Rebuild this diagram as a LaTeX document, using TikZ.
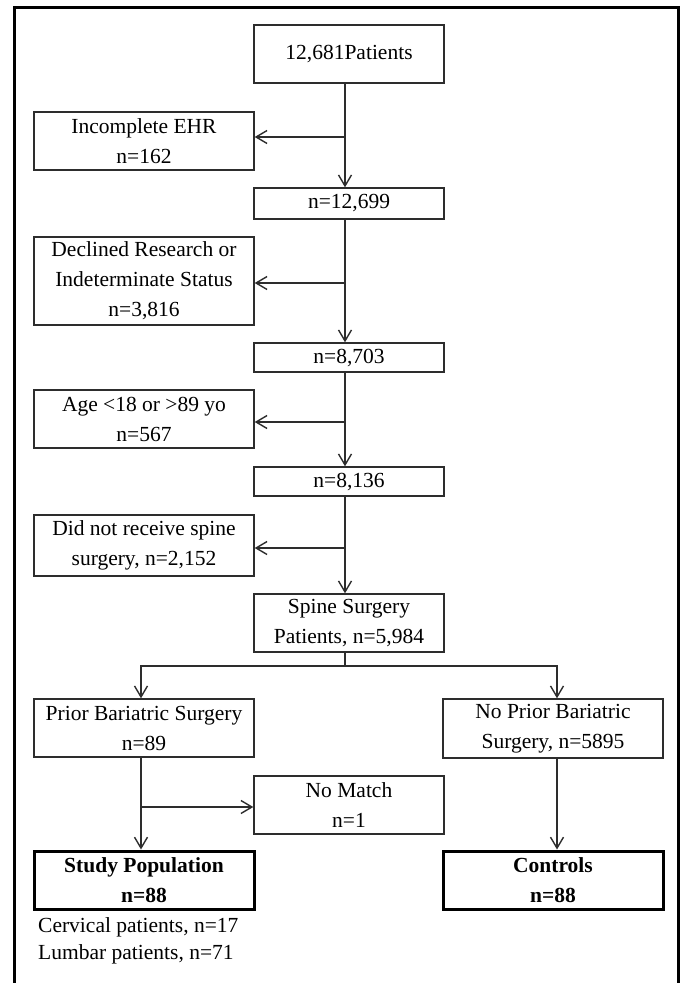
\documentclass[tikz,border=0pt]{standalone}
\usepackage{fontspec}
\setmainfont{Liberation Serif}
\usetikzlibrary{arrows.meta}
\definecolor{linegray}{RGB}{45,45,45}
\begin{document}
\begin{tikzpicture}[x=1pt,y=-1pt,
  every node/.style={font=\fontsize{21.5}{30}\selectfont, inner sep=0pt, text=black},
  box/.style={draw=linegray, line width=1.4pt, minimum height=58pt, align=center},
  wbox/.style={box, minimum width=220pt},
  cbox/.style={box, minimum width=190pt},
  thickbox/.style={wbox, draw=black, line width=3pt, font=\fontsize{21.5}{30}\selectfont\bfseries},
  arr/.style={draw=linegray, line width=1.4pt, -{Straight Barb[length=11pt,width=13pt,line width=1.4pt]}},
  ln/.style={draw=linegray, line width=1.4pt}]
\useasboundingbox (0,0) rectangle (684,983);
\fill[white] (0,0) rectangle (684,983);
\draw[line width=3pt] (14,983) -- (14,7) -- (678,7) -- (678,983);

\node[cbox] (top) at (349,54) {12,681Patients};
\node[wbox] (ehr) at (144,141) {Incomplete EHR\\n=162};
\node[cbox, minimum height=31pt] (n1) at (349,203.5) {n=12,699};
\node[wbox, minimum height=88pt] (dec) at (144,281) {Declined Research or\\Indeterminate Status\\n=3,816};
\node[cbox, minimum height=29pt] (n2) at (349,357.5) {n=8,703};
\node[wbox] (age) at (144,419) {Age <18 or >89 yo\\n=567};
\node[cbox, minimum height=29pt] (n3) at (349,481.5) {n=8,136};
\node[wbox, minimum height=61pt] (dnr) at (144,545.5) {Did not receive spine\\surgery, n=2,152};
\node[cbox] (spine) at (349,623) {Spine Surgery\\Patients, n=5,984};
\node[wbox] (prior) at (144,728) {Prior Bariatric Surgery\\n=89};
\node[wbox, minimum height=59pt] (noprior) at (553,728.5) {No Prior Bariatric\\Surgery, n=5895};
\node[cbox] (nomatch) at (349,805) {No Match\\n=1};
\node[thickbox] (study) at (144,880) {Study Population\\n=88};
\node[thickbox] (ctrl) at (553,880) {Controls\\n=88};
\node[anchor=west] (cerv) at (38,927) {Cervical patients, n=17};
\node[anchor=west] (lumb) at (38,954) {Lumbar patients, n=71};

\coordinate (tx) at (345,0);
\coordinate (lx) at (141,0);
\coordinate (rx) at (557,0);
\coordinate (b1) at (345,137);
\coordinate (b2) at (345,283);
\coordinate (b3) at (345,422);
\coordinate (b4) at (345,548);
\coordinate (sp) at (345,666);
\coordinate (b5) at (141,807);

\draw[arr] (top.south -| tx) -- (n1.north -| tx);
\draw[arr] (b1) -- (ehr.east |- b1);
\draw[arr] (n1.south -| tx) -- (n2.north -| tx);
\draw[arr] (b2) -- (dec.east |- b2);
\draw[arr] (n2.south -| tx) -- (n3.north -| tx);
\draw[arr] (b3) -- (age.east |- b3);
\draw[arr] (n3.south -| tx) -- (spine.north -| tx);
\draw[arr] (b4) -- (dnr.east |- b4);
\draw[ln] (spine.south -| tx) -- (sp);
\draw[arr] (sp) -| (prior.north -| lx);
\draw[arr] (sp) -| (noprior.north -| rx);
\draw[arr] (prior.south -| lx) -- (study.north -| lx);
\draw[arr] (b5) -- (nomatch.west |- b5);
\draw[arr] (noprior.south -| rx) -- (ctrl.north -| rx);
\end{tikzpicture}
\end{document}
